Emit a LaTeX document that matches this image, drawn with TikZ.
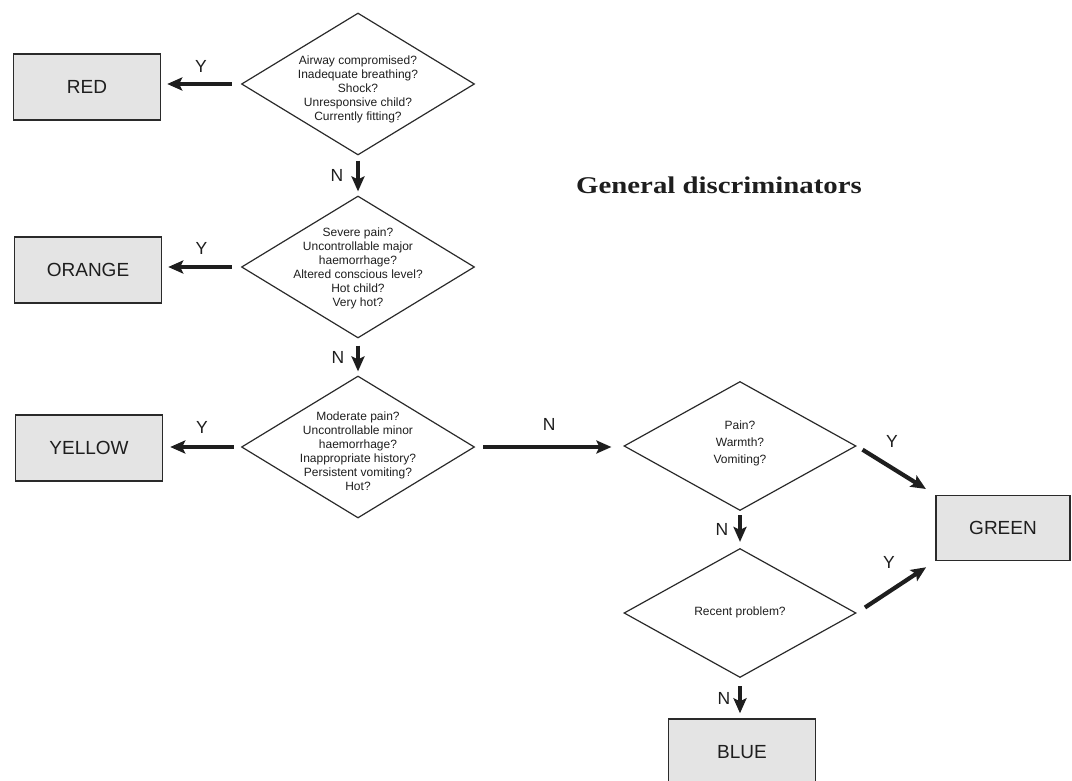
\documentclass[tikz,border=0pt]{standalone}
\usepackage{fontspec}
\setmainfont{Liberation Sans}
\newfontfamily\titlefont[FakeStretch=1.2]{Liberation Serif}
\usepackage{xcolor}
\usepackage{tikz}
\usetikzlibrary{arrows.meta,shapes.geometric}
\definecolor{ink}{HTML}{1E1E1E}
\definecolor{edge}{HTML}{2A2A2A}
\definecolor{boxfill}{HTML}{E4E4E4}
\tikzset{
  box/.style={rectangle, draw=edge, line width=1.4pt, fill=boxfill, minimum width=147pt, minimum height=66pt, inner sep=0pt, text=ink, font=\fontsize{19}{22}\selectfont},
  dia/.style={diamond, draw=edge, line width=1.2pt, inner sep=0pt, minimum width=233pt, minimum height=142pt},
  diaS/.style={dia, minimum width=232pt, minimum height=129pt},
  qtxt/.style={align=center, inner sep=0pt, text=ink, font=\fontsize{12}{14}\selectfont},
  qtxtS/.style={qtxt, font=\fontsize{12}{17}\selectfont},
  arr/.style={-{Stealth[length=15pt,width=13pt,inset=3pt]}, line width=4.2pt, draw=ink},
  lab/.style={text=ink, font=\fontsize{17.5}{20}\selectfont},
  ttl/.style={text=ink, font=\titlefont\bfseries\fontsize{24}{29}\selectfont}
}

\begin{document}
\begin{tikzpicture}[x=1pt,y=-1pt]
  \useasboundingbox (0,0) rectangle (1072,781);
  \clip (0,0) rectangle (1072,781);

  % questions
  \node[dia] (q1) at (358,84) {};
  \node[dia] (q2) at (358,267) {};
  \node[dia] (q3) at (358,447) {};
  \node[diaS] (q4) at (740,446) {};
  \node[diaS] (q5) at (740,613) {};

  \node[qtxt] (t1) at ([yshift=-5pt]q1.center) {Airway compromised?\\Inadequate breathing?\\Shock?\\Unresponsive child?\\Currently fitting?};
  \node[qtxt] (t2) at ([yshift=-1pt]q2.center) {Severe pain?\\Uncontrollable major\\haemorrhage?\\Altered conscious level?\\Hot child?\\Very hot?};
  \node[qtxt] (t3) at ([yshift=-4pt]q3.center) {Moderate pain?\\Uncontrollable minor\\haemorrhage?\\Inappropriate history?\\Persistent vomiting?\\Hot?};
  \node[qtxtS] (t4) at ([yshift=3pt]q4.center) {Pain?\\Warmth?\\Vomiting?};
  \node[qtxt] (t5) at ([yshift=1pt]q5.center) {Recent problem?};

  % outcomes
  \node[box] (red) at (87,87) {RED};
  \node[box] (orange) at (88,270) {ORANGE};
  \node[box] (yellow) at (89,448) {YELLOW};
  \node[box, minimum width=134pt, minimum height=65pt] (green) at (1003,528) {GREEN};
  \node[box] (blue) at (742,752) {BLUE};

  \node[ttl] (title) at (719,185) {General discriminators};

  % yes
  \draw[arr, shorten <=9pt, shorten >=6pt] (q1.west) -- (red.east |- q1.west) node[lab, midway, yshift=18pt] {Y};
  \draw[arr, shorten <=9pt, shorten >=6pt] (q2.west) -- (orange.east |- q2.west) node[lab, midway, yshift=19pt] {Y};
  \draw[arr, shorten <=7pt, shorten >=7pt] (q3.west) -- (yellow.east |- q3.west) node[lab, midway, yshift=20pt] {Y};
  \draw[arr, shorten <=7pt, shorten >=11pt] (q4.east) -- (green.north west) node[lab, midway, xshift=-4pt, yshift=29pt] {Y};
  \draw[arr, shorten <=10pt, shorten >=11pt] (q5.east) -- (green.south west) node[lab, midway, xshift=-7pt, yshift=25pt] {Y};

  % no
  \draw[arr, shorten <=5pt, shorten >=4pt] (q1.south) -- (q2.north) node[lab, midway, xshift=-21pt] {N};
  \draw[arr, shorten <=7pt, shorten >=4pt] (q2.south) -- (q3.north) node[lab, midway, xshift=-20pt] {N};
  \draw[arr, shorten <=8pt, shorten >=12pt] (q3.east) -- (q4.west |- q3.east) node[lab, midway, yshift=23pt] {N};
  \draw[arr, shorten <=4pt, shorten >=6pt] (q4.south) -- (q5.north) node[lab, midway, xshift=-18pt] {N};
  \draw[arr, shorten <=8pt, shorten >=5pt] (q5.south) -- (q5.south |- blue.north) node[lab, midway, xshift=-16pt] {N};
\end{tikzpicture}
\end{document}
